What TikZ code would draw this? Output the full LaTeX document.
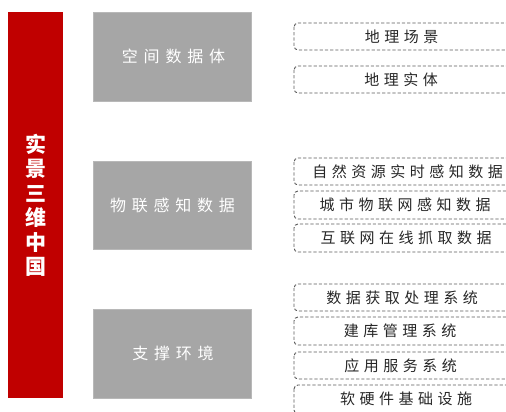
\documentclass[tikz,border=0pt]{standalone}
\usepackage{fontspec}
\newfontfamily\cjkred{Noto Sans CJK SC}
\newfontfamily\cjkgray[LetterSpace=36]{Noto Sans CJK SC}
\newfontfamily\cjkdash[LetterSpace=30]{Noto Sans CJK SC}
\definecolor{barred}{HTML}{C00000}
\definecolor{boxgray}{HTML}{A6A6A6}
\definecolor{dashline}{HTML}{5A5A5A}
\definecolor{dashtext}{HTML}{262626}
\tikzset{
  redbar/.style={fill=barred, draw=none},
  graybox/.style={fill=boxgray, draw=boxgray!80!white, line width=0.6pt},
  graytext/.style={text=white, font=\cjkgray\fontsize{16}{18}\selectfont, inner sep=0pt},
  dashbox/.style={draw=dashline, line width=0.9pt, dash pattern=on 3.2pt off 2pt, rounded corners=4pt},
  dashtxt/.style={text=dashtext, font=\cjkdash\fontsize{15}{16}\selectfont, inner sep=0pt},
}
\begin{document}
\begin{tikzpicture}[x=1pt,y=-1pt]
\useasboundingbox (0,0) rectangle (506,412);
\clip (0,0) rectangle (506,412);
% red bar
\path[redbar] (8,12) rectangle (63,398);
\node[text=white, font=\cjkred\bfseries\fontsize{21}{24.5}\selectfont, align=center, inner sep=0pt] (title) at (35.5,205.5)
  {实\\景\\三\\维\\中\\国};
% gray boxes
\path[graybox] (93,12) rectangle (251,101);
\node[graytext] (g1) at (173.5,56.5) {空间数据体};
\path[graybox] (93,161) rectangle (251,249);
\node[graytext] (g2) at (172.5,205) {物联感知数据};
\path[graybox] (93,309) rectangle (251,398);
\node[graytext] (g3) at (173,353.5) {支撑环境};
% dashed boxes
\draw[dashbox] (294,23) rectangle (512,50);
\node[dashtxt] (d1) at (401.5,36.5) {地理场景};
\draw[dashbox] (294,66) rectangle (512,93);
\node[dashtxt] (d2) at (401,79.5) {地理实体};
\draw[dashbox] (294,158) rectangle (512,185);
\node[dashtxt] (d3) at (407.5,171.5) {自然资源实时感知数据};
\draw[dashbox] (294,191) rectangle (512,219);
\node[dashtxt] (d4) at (405,205) {城市物联网感知数据};
\draw[dashbox] (294,224) rectangle (512,252);
\node[dashtxt] (d5) at (406,238) {互联网在线抓取数据};
\draw[dashbox] (294,284) rectangle (512,311);
\node[dashtxt] (d6) at (402,297.5) {数据获取处理系统};
\draw[dashbox] (294,317) rectangle (512,345);
\node[dashtxt] (d7) at (400,331) {建库管理系统};
\draw[dashbox] (294,352) rectangle (512,379);
\node[dashtxt] (d8) at (400.5,365.5) {应用服务系统};
\draw[dashbox] (294,385) rectangle (512,414);
\node[dashtxt] (d9) at (406,399) {软硬件基础设施};
\end{tikzpicture}
\end{document}
